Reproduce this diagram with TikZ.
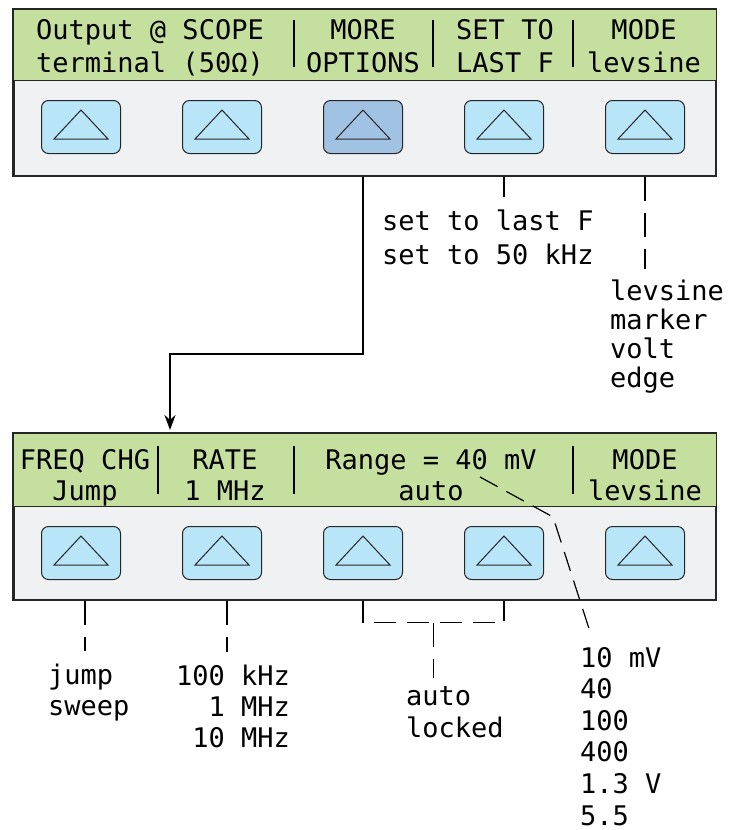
\documentclass[tikz,border=0pt]{standalone}
\usepackage{fontspec}
\newfontfamily\lcdfont{DejaVu Sans Mono}
\usetikzlibrary{arrows.meta}
\usetikzlibrary{positioning}
\usetikzlibrary{calc}

\definecolor{lcdgreen}{HTML}{C5DF9E}
\definecolor{panelgray}{HTML}{F0F1F3}
\definecolor{keyblue}{HTML}{B9E5F9}
\definecolor{keypressed}{HTML}{A2C2E4}

\begin{document}
\begin{tikzpicture}[x=1pt, y=-1pt, >=Stealth,
    panel/.style={draw=black!85, line width=1.6pt, fill=panelgray, inner sep=0pt,
      minimum width=702pt, minimum height=166pt, anchor=north west},
    band/.style={draw=black!85, line width=1pt, fill=lcdgreen},
    softkey/.style={draw=black!85, line width=1pt, rounded corners=7pt,
      minimum width=79pt, minimum height=53pt, inner sep=0pt,
      path picture={\draw[line width=1pt, sharp corners]
        ([shift={(-27pt,-12pt)}]path picture bounding box.center)
        -- ++(27pt,29pt) -- ++(27pt,-29pt) -- cycle;}},
    lcd/.style={font=\lcdfont\fontsize{27}{27}\selectfont, inner sep=0pt},
    sep/.style={line width=1.3pt},
    wire/.style={line width=1.2pt},
    dashwire/.style={line width=1.2pt, dash pattern=on 24pt off 12pt}]

    \useasboundingbox (0,0) rectangle (729,830);

    % Upper menu panel
    \node[panel] (top) at (13,9) {};
    \draw[band] (top.north west) rectangle ([yshift=-71pt]top.north east);
    \draw[draw=black!85, line width=1.6pt] (top.north west) rectangle (top.south east);

    % labels shown on the display
    \foreach \x/\a/\b [count=\k] in {150/Output @ SCOPE/terminal (50Ω),
        363/MORE/OPTIONS, 505/SET TO/LAST F, 644/MODE/levsine} {
      \node[lcd, anchor=base] (tla\k) at (\x,39) {\a};
      \node[lcd, anchor=base] (tlb\k) at (\x,72) {\b};
    }
    \foreach \x in {294,433,573}
      \draw[sep] (\x,20) -- (\x,67);

    % softkeys (third one pressed)
    \foreach \k/\x/\c in {1/81/keyblue, 2/222/keyblue, 3/363/keypressed,
        4/504/keyblue, 5/645/keyblue}
      \node[softkey, fill=\c] (tk\k) at (\x,127) {};

    % Lower menu panel
    \node[panel] (bot) at (13,433) {};
    \draw[band] (bot.north west) rectangle ([yshift=-73pt]bot.north east);
    \draw[draw=black!85, line width=1.6pt] (bot.north west) rectangle (bot.south east);

    \foreach \x/\a/\b [count=\k] in {85/FREQ CHG/Jump, 225/RATE/1 MHz,
        431/Range = 40 mV/auto, 645/MODE/levsine} {
      \node[lcd, anchor=base] (bla\k) at (\x,469) {\a};
      \node[lcd, anchor=base] (blb\k) at (\x,500) {\b};
    }
    \foreach \x in {158,294,573}
      \draw[sep] (\x,446) -- (\x,494);

    \foreach \k/\x in {1/81, 2/222, 3/363, 4/504, 5/645}
      \node[softkey, fill=keyblue] (bk\k) at (\x,553) {};

    % MORE OPTIONS leads to the lower menu
    \coordinate (arrowtip) at (170,430);
    \draw[line width=1.8pt, -{Stealth[length=15pt, width=11pt]}]
      (tk3 |- top.south) -- ++(0,177) -| (arrowtip);

    % choices under the upper keys
    \foreach \t [count=\k] in {set to last F, set to 50 kHz}
      \node[lcd, anchor=base west] (set\k) at (382,196+34*\k) {\t};
    \draw[wire] (tk4 |- top.south) -- ([yshift=12pt]tk4 |- set1.north);

    \foreach \t [count=\k] in {levsine, marker, volt, edge}
      \node[lcd, anchor=base west] (mode\k) at (610,271+29*\k) {\t};
    \draw[dashwire] (tk5 |- top.south) -- ([yshift=10pt]tk5 |- mode1.north);

    % choices under the lower keys
    \foreach \t [count=\k] in {jump, sweep}
      \node[lcd, anchor=base west] (chg\k) at (48,653+31*\k) {\t};
    \draw[dashwire] ([xshift=4pt]bk1 |- bot.south) -- ([xshift=4pt, yshift=12pt]bk1 |- chg1.north);

    \foreach \t [count=\k] in {100 kHz, 1 MHz, 10 MHz}
      \node[lcd, anchor=base east] (rate\k) at (290,654+31*\k) {\t};
    \draw[dashwire] ([xshift=5pt]bk2 |- bot.south) -- ([xshift=5pt, yshift=12pt]bk2 |- rate1.north);

    \foreach \t [count=\k] in {auto, locked}
      \node[lcd, anchor=base west] (lock\k) at (406,673+32*\k) {\t};
    \coordinate (brk) at ($(bk3 |- bot.south)!0.5!(bk4 |- bot.south) + (0,22)$);
    \draw[dash pattern=on 22pt off 11pt, line width=1.2pt]
      (bk3 |- bot.south) |- (brk) -| (bk4 |- bot.south);
    \draw[dashwire] (brk) -- ([yshift=8pt]brk |- lock1.north);

    \foreach \t [count=\k] in {10 mV, 40, 100, 400, 1.3 V, 5.5}
      \node[lcd, anchor=base west] (rng\k) at (580,635.4+31.6*\k) {\t};
    \coordinate (rngstart) at (480,477);
    \draw[dash pattern=on 20pt off 10pt, line width=1.2pt]
      (rngstart) -- (553,517) -- ([xshift=11pt, yshift=12pt]rng1.north west);

\end{tikzpicture}
\end{document}
